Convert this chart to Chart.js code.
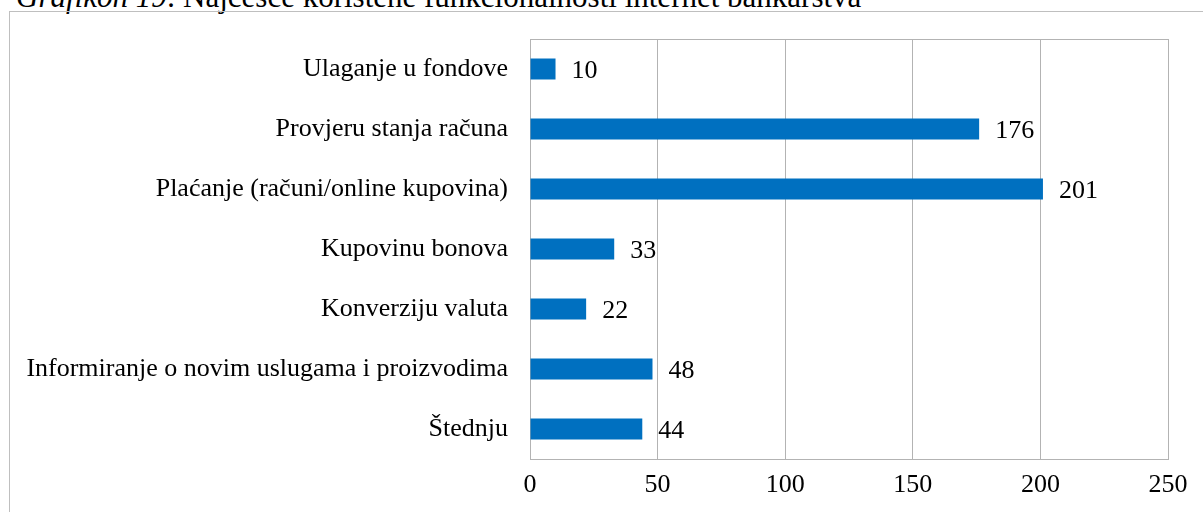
<!DOCTYPE html>
<html>
<head>
<meta charset="utf-8">
<script src="https://cdn.jsdelivr.net/npm/chart.js@4.4.0/dist/chart.umd.min.js"></script>
<style>
  html, body { margin: 0; padding: 0; background: #fff; overflow: hidden; }
  #wrap { position: relative; width: 1203px; height: 512px; overflow: hidden; }
  #caption {
    position: absolute; left: 16px; top: -19px; white-space: nowrap; line-height: 31px;
    font-family: "Liberation Serif", "Times New Roman", serif; font-size: 31px; color: #000;
  }
  #frame { position: absolute; left: 9px; top: 11px; width: 1200px; height: 520px; border: 1px solid #bfbfbf; box-sizing: border-box; }
  #chartBox { position: absolute; left: 0; top: 0; width: 1203px; height: 512px; }
</style>
</head>
<body>
<div id="wrap">
  <div id="caption"><i>Grafikon 19</i>: Najčešće korištene funkcionalnosti internet bankarstva</div>
  <div id="frame"></div>
  <div id="chartBox"><canvas id="chart"></canvas></div>
</div>
<script>
"use strict";

const categories = [
    "Ulaganje u fondove",
    "Provjeru stanja računa",
    "Plaćanje (računi/online kupovina)",
    "Kupovinu bonova",
    "Konverziju valuta",
    "Informiranje o novim uslugama i proizvodima",
    "Štednju"
];
const values = [10, 176, 201, 33, 22, 48, 44];
const xTicks = [0, 50, 100, 150, 200, 250];

const FONT = "'Liberation Serif', 'Times New Roman', serif";

const valueLabels = {
    id: "valueLabels",
    afterDatasetsDraw(chart) {
        const ctx = chart.ctx;
        const meta = chart.getDatasetMeta(0);
        ctx.save();
        ctx.font = `26px ${FONT}`;
        ctx.fillStyle = "#000";
        ctx.textBaseline = "middle";
        ctx.textAlign = "left";
        meta.data.forEach((bar, i) => {
            ctx.fillText(String(values[i]), bar.x + 16, bar.y + 2);
        });
        ctx.restore();
    }
};

const plotBorder = {
    id: "plotBorder",
    beforeDatasetsDraw(chart) {
        const { ctx, chartArea: a } = chart;
        ctx.save();
        ctx.strokeStyle = "#b3b3b3";
        ctx.lineWidth = 1;
        ctx.strokeRect(a.left + 0.5, a.top + 0.5, a.right - a.left, a.bottom - a.top);
        ctx.restore();
    }
};

new Chart(document.getElementById("chart"), {
    type: "bar",
    data: {
        labels: categories,
        datasets: [{
            data: values,
            backgroundColor: "#0070c0",
            borderWidth: 0,
            categoryPercentage: 1,
            barPercentage: 0.35
        }]
    },
    options: {
        indexAxis: "y",
        responsive: true,
        maintainAspectRatio: false,
        animation: false,
        layout: { padding: { top: 39, right: 35, left: 0, bottom: 0 } },
        plugins: {
            legend: { display: false },
            tooltip: { enabled: false }
        },
        scales: {
            x: {
                min: 0, max: 250,
                afterBuildTicks: axis => { axis.ticks = xTicks.map(v => ({ value: v })); },
                afterFit: axis => { axis.height = 53; },
                grid: { color: "#b3b3b3", drawTicks: false },
                border: { display: false },
                ticks: { color: "#000", padding: 11, font: { family: FONT, size: 26 } }
            },
            y: {
                afterFit: axis => { axis.width = 530; },
                grid: { display: false, drawTicks: false },
                border: { display: false },
                ticks: { color: "#000", padding: 22, font: { family: FONT, size: 26 } }
            }
        }
    },
    plugins: [plotBorder, valueLabels]
});
</script>
</body>
</html>
